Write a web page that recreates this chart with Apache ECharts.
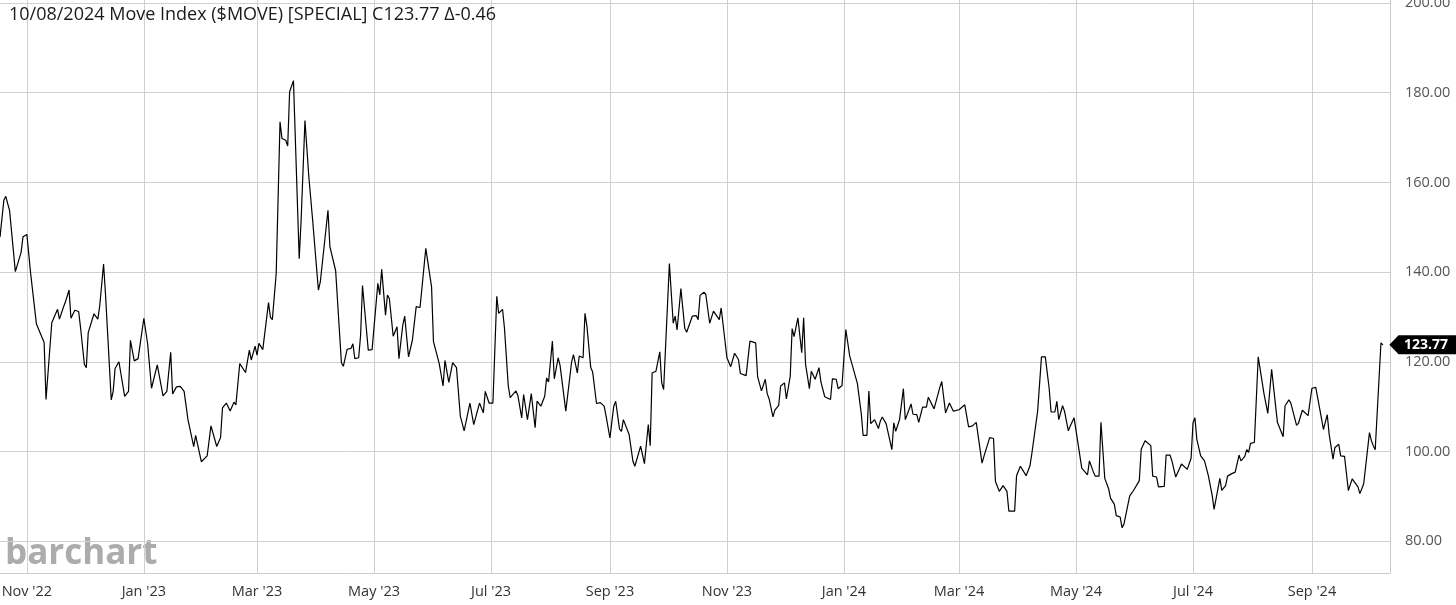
<!DOCTYPE html>
<html><head><meta charset="utf-8">
<script src="https://cdn.jsdelivr.net/npm/echarts@6/dist/echarts.min.js"></script>
<style>html,body{margin:0;padding:0;background:#fff}#c{width:1456px;height:605px}</style>
</head><body><div id="c"></div>
<script>
const titleText = "10/08/2024 Move Index ($MOVE) [SPECIAL] C123.77 \u0394-0.46";
const yTicks = [80, 100, 120, 140, 160, 180, 200];
const xTickMonths = ['2022-11','2023-01','2023-03','2023-05','2023-07','2023-09','2023-11','2024-01','2024-03','2024-05','2024-07','2024-09'];
const monthNames = ['Jan','Feb','Mar','Apr','May','Jun','Jul','Aug','Sep','Oct','Nov','Dec'];

const move2022 = [['2022-10-18',147.8],['2022-10-20',156],['2022-10-21',156.9],['2022-10-23',153.7],['2022-10-26',140.1],['2022-10-29',144.4],['2022-10-30',147.9],['2022-11-01',148.4],['2022-11-03',139.6],['2022-11-06',128.4],['2022-11-07',128],['2022-11-10',124.3],['2022-11-11',111.6],['2022-11-14',128.7],['2022-11-17',131.7],['2022-11-18',129.5],['2022-11-20',132.1],['2022-11-21',133.2],['2022-11-23',136],['2022-11-24',129.7],['2022-11-26',131.5],['2022-11-28',131.2],['2022-11-29',127.6],['2022-12-01',119.4],['2022-12-02',118.7],['2022-12-03',126.5],['2022-12-06',130.7],['2022-12-08',129.5],['2022-12-09',132.5],['2022-12-11',141.8],['2022-12-12',135.1],['2022-12-15',111.5],['2022-12-16',113.4],['2022-12-17',118.5],['2022-12-19',120],['2022-12-22',112.3],['2022-12-24',113.4],['2022-12-25',124.8],['2022-12-27',120.2],['2022-12-29',120.7]];

const move2023a = [['2023-01-01',129.7],['2023-01-03',123.9],['2023-01-05',114.1],['2023-01-08',119.3],['2023-01-11',112.4],['2023-01-13',113.4],['2023-01-15',122.1],['2023-01-16',112.8],['2023-01-18',114.4],['2023-01-20',114.5],['2023-01-22',113.4],['2023-01-24',107.1],['2023-01-27',101.1],['2023-01-28',103.6],['2023-01-31',97.7],['2023-02-03',99],['2023-02-05',105.7],['2023-02-08',101.1],['2023-02-10',103.1],['2023-02-11',109.7],['2023-02-13',110.8],['2023-02-15',109],['2023-02-17',111],['2023-02-18',110.4],['2023-02-20',119.6],['2023-02-23',117.6],['2023-02-25',122.6],['2023-02-26',120.4],['2023-02-28',123.5],['2023-03-01',121.5],['2023-03-02',124.1],['2023-03-04',122.7],['2023-03-07',133.2],['2023-03-08',129.9],['2023-03-09',129.4],['2023-03-11',139.7],['2023-03-13',173.5],['2023-03-14',169.8],['2023-03-16',169.4],['2023-03-17',168.1],['2023-03-18',180.2],['2023-03-20',182.7],['2023-03-23',143],['2023-03-24',151.6],['2023-03-26',173.8],['2023-03-28',161.3],['2023-03-30',151.6],['2023-04-02',136],['2023-04-03',137.8],['2023-04-07',153.8],['2023-04-08',145.7],['2023-04-11',140.3],['2023-04-14',119.8],['2023-04-15',119],['2023-04-17',122.8],['2023-04-19',123],['2023-04-20',124],['2023-04-21',120.7],['2023-04-23',120.9],['2023-04-24',125.9],['2023-04-25',137],['2023-04-28',122.6],['2023-04-30',122.7],['2023-05-03',137.5],['2023-05-04',134.9],['2023-05-05',140.6],['2023-05-07',130.4],['2023-05-08',134.9],['2023-05-09',134.1],['2023-05-11',125.7],['2023-05-13',127.8],['2023-05-14',120.7],['2023-05-16',128.2],['2023-05-17',130.2],['2023-05-19',121.1],['2023-05-21',124.8],['2023-05-23',132.3],['2023-05-25',132.1],['2023-05-28',145.3],['2023-05-31',136.7],['2023-06-01',124.5],['2023-06-04',119.6],['2023-06-06',114.6],['2023-06-07',120.3],['2023-06-09',115.4],['2023-06-10',115.6],['2023-06-11',119.8],['2023-06-13',118.7],['2023-06-15',107.9],['2023-06-17',104.6],['2023-06-18',104.6],['2023-06-20',110.8],['2023-06-22',106],['2023-06-25',110.8],['2023-06-27',108.6],['2023-06-28',113.4],['2023-06-30',110.8]];

const move2023b = [['2023-07-02',110.8],['2023-07-04',134.6],['2023-07-05',130.8],['2023-07-07',131.7],['2023-07-08',127.6],['2023-07-10',114.6],['2023-07-11',112],['2023-07-14',113.5],['2023-07-15',112.5],['2023-07-17',107.5],['2023-07-18',112.7],['2023-07-20',107.1],['2023-07-22',112.9],['2023-07-24',105.3],['2023-07-25',111.2],['2023-07-27',110.1],['2023-07-29',112.3],['2023-07-30',116.4],['2023-07-31',115.5],['2023-08-02',124.6],['2023-08-03',116.2],['2023-08-05',120.9],['2023-08-06',119.2],['2023-08-09',109],['2023-08-12',119.9],['2023-08-13',121.6],['2023-08-15',117.5],['2023-08-16',121.3],['2023-08-18',120.9],['2023-08-19',130.8],['2023-08-20',128],['2023-08-22',118.7],['2023-08-23',117.7],['2023-08-25',110.7],['2023-08-27',110.9],['2023-08-29',110.1],['2023-08-30',107.9],['2023-09-01',103],['2023-09-03',110.1],['2023-09-04',111.2],['2023-09-06',105],['2023-09-07',104.5],['2023-09-08',107.1],['2023-09-11',103.8],['2023-09-13',97.8],['2023-09-14',96.7],['2023-09-17',101.2],['2023-09-19',97.3],['2023-09-21',106],['2023-09-22',101.3],['2023-09-23',117.5],['2023-09-25',117.9],['2023-09-27',122.2],['2023-09-28',115.3],['2023-09-29',113.8],['2023-10-02',141.9],['2023-10-04',128.6],['2023-10-05',130.2],['2023-10-06',127.1],['2023-10-08',136.3],['2023-10-10',127.5],['2023-10-11',126.6],['2023-10-14',130.2],['2023-10-16',130.3],['2023-10-17',129.4],['2023-10-18',134.8],['2023-10-20',135.5],['2023-10-21',135],['2023-10-23',128.6],['2023-10-25',131.3],['2023-10-26',131.1],['2023-10-28',129.4],['2023-10-29',132],['2023-10-30',132],['2023-11-01',120.9],['2023-11-03',118.9],['2023-11-04',119],['2023-11-05',121.9],['2023-11-07',120.5],['2023-11-08',117.4],['2023-11-11',116.9],['2023-11-13',124.6],['2023-11-16',124.2],['2023-11-17',116.7],['2023-11-19',113.5],['2023-11-21',116.1],['2023-11-22',112.9],['2023-11-23',111.7],['2023-11-25',107.7],['2023-11-26',109.2],['2023-11-28',110.3],['2023-11-29',114.6],['2023-12-01',115.3],['2023-12-02',111.7],['2023-12-04',116.8],['2023-12-05',127.4],['2023-12-06',125.6],['2023-12-08',129.8],['2023-12-10',122],['2023-12-11',129.8],['2023-12-12',119.4],['2023-12-14',114],['2023-12-15',117.9],['2023-12-17',116.1],['2023-12-19',118.7],['2023-12-20',115.5],['2023-12-22',112.2],['2023-12-23',112.2],['2023-12-25',111.6],['2023-12-26',116.2],['2023-12-28',116.1],['2023-12-29',114],['2023-12-31',114.7]];

const move2024a = [['2024-01-01',114.9],['2024-01-02',127.2],['2024-01-04',121.3],['2024-01-05',121.1],['2024-01-08',115.2],['2024-01-10',108.6],['2024-01-11',103.6],['2024-01-13',103.6],['2024-01-14',113.5],['2024-01-15',106.2],['2024-01-17',107.1],['2024-01-19',105.1],['2024-01-20',106.8],['2024-01-21',107.7],['2024-01-23',106.2],['2024-01-24',106],['2024-01-26',100.4],['2024-01-27',106.4],['2024-01-28',104.5],['2024-01-30',107.1],['2024-02-01',114],['2024-02-02',107.1],['2024-02-04',109.4],['2024-02-05',110.6],['2024-02-06',108.3],['2024-02-08',108.2],['2024-02-09',106.5],['2024-02-11',109.9],['2024-02-13',109.9],['2024-02-14',112.1],['2024-02-15',111.9],['2024-02-17',109.5],['2024-02-20',114.3],['2024-02-21',115.6],['2024-02-23',108.6],['2024-02-25',110.8],['2024-02-26',110.7],['2024-02-27',109],['2024-03-01',109.3],['2024-03-04',110.4],['2024-03-06',105.5],['2024-03-08',105.7],['2024-03-10',106.5],['2024-03-13',97.4],['2024-03-14',98.9],['2024-03-15',99],['2024-03-17',103.1],['2024-03-19',102.9],['2024-03-20',93.3],['2024-03-22',91.1],['2024-03-23',91.3],['2024-03-24',92.4],['2024-03-26',91.1],['2024-03-27',86.7],['2024-03-30',86.7],['2024-03-31',94.6],['2024-04-02',96.7],['2024-04-03',96.5],['2024-04-05',94.6],['2024-04-07',96.8],['2024-04-08',99.6],['2024-04-09',99.2],['2024-04-11',109],['2024-04-12',109],['2024-04-13',121.1],['2024-04-15',121.1],['2024-04-17',114.1],['2024-04-18',108.8],['2024-04-20',108.8],['2024-04-21',111.2],['2024-04-22',107.1],['2024-04-24',110.2],['2024-04-25',109],['2024-04-27',104.6],['2024-04-28',105.7],['2024-04-30',107.5],['2024-05-01',107.5],['2024-05-04',96.3],['2024-05-05',96.1],['2024-05-07',94.8],['2024-05-08',97.9],['2024-05-10',95.5],['2024-05-11',94.5],['2024-05-13',94.5],['2024-05-14',106.5],['2024-05-16',94],['2024-05-18',91.7],['2024-05-19',89.6],['2024-05-21',88.2],['2024-05-22',85.7],['2024-05-24',85.4],['2024-05-25',83],['2024-05-26',83.8],['2024-05-27',84],['2024-05-29',90.1],['2024-05-31',91.3],['2024-06-01',91.3],['2024-06-03',93.5],['2024-06-04',100.5],['2024-06-06',102.4],['2024-06-07',102.4],['2024-06-09',101.3],['2024-06-10',94.5],['2024-06-12',94.3],['2024-06-13',92.1],['2024-06-16',92.2],['2024-06-17',99.2],['2024-06-19',99.2],['2024-06-20',97.9],['2024-06-22',94.3],['2024-06-23',94.3],['2024-06-25',97.2],['2024-06-26',97.2],['2024-06-28',96],['2024-06-30',98.5]];

const move2024b = [['2024-07-01',106.4],['2024-07-02',107.5],['2024-07-03',102.7],['2024-07-05',99],['2024-07-07',97.9],['2024-07-09',94.6],['2024-07-11',90.2],['2024-07-12',87.1],['2024-07-13',87.1],['2024-07-15',94],['2024-07-16',91.3],['2024-07-18',92.4],['2024-07-19',94.5],['2024-07-21',95],['2024-07-23',95.4],['2024-07-25',99.2],['2024-07-26',97.9],['2024-07-28',98.9],['2024-07-29',100.4],['2024-07-30',99.8],['2024-07-31',101.8],['2024-08-02',102],['2024-08-04',121.1],['2024-08-05',121.1],['2024-08-07',112.9],['2024-08-08',112.6],['2024-08-09',108.5],['2024-08-11',118.3],['2024-08-12',118.3],['2024-08-14',106.5],['2024-08-15',106.4],['2024-08-17',103.3],['2024-08-18',110.2],['2024-08-20',111.5],['2024-08-21',110.8],['2024-08-24',105.8],['2024-08-25',106.3],['2024-08-27',109.2],['2024-08-28',109],['2024-08-30',108],['2024-09-01',114.1],['2024-09-03',114.3],['2024-09-04',114.6],['2024-09-06',107.3],['2024-09-07',104.9],['2024-09-09',108.2],['2024-09-10',103.8],['2024-09-12',98.3],['2024-09-13',100.9],['2024-09-15',101.6],['2024-09-16',99],['2024-09-18',98.9],['2024-09-20',91.3],['2024-09-22',93.9],['2024-09-23',94],['2024-09-25',92.1],['2024-09-26',90.6],['2024-09-28',92.8],['2024-09-29',92.8],['2024-10-01',104.2],['2024-10-02',102.4],['2024-10-03',101.3],['2024-10-04',100.4],['2024-10-07',124.23],['2024-10-08',123.77]];

function toTime(s) { const p = s.split('-'); return new Date(+p[0], +p[1] - 1, p[2] ? +p[2] : 1).getTime(); }
const allData = move2022.concat(move2023a, move2023b, move2024a, move2024b).map(d => [toTime(d[0]), d[1]]);
const last = allData[allData.length - 1];
const xTickValues = xTickMonths.map(toTime);
const FONT = "'Open Sans', 'Noto Sans', sans-serif";

const chart = echarts.init(document.getElementById('c'), null, {renderer: 'canvas'});
chart.setOption({
  animation: false,
  backgroundColor: '#fff',
  title: {
    text: titleText, left: 4, top: 1,
    textStyle: {fontFamily: FONT, fontSize: 18, fontWeight: 'normal', color: '#1a1a1a'}
  },
  graphic: [{
    type: 'text', left: 5, top: 537, silent: true,
    style: {text: 'barchart', fontFamily: FONT, fontSize: 35, fontWeight: 700, fill: '#acacac'}
  }],
  grid: {left: 0, right: 66, top: 0, bottom: 32, containLabel: false, outerBoundsMode: 'none'},
  xAxis: {
    type: 'value',
    min: new Date(2022, 9, 18).getTime(),
    max: new Date(2024, 9, 11, 17).getTime(),
    axisLine: {show: true, lineStyle: {color: '#cccccc', width: 1}},
    axisTick: {show: false, customValues: xTickValues},
    axisLabel: {
      customValues: xTickValues, color: '#333', fontSize: 14.5, fontFamily: FONT, margin: 11, hideOverlap: false,
      formatter: v => { const d = new Date(v); return monthNames[d.getMonth()] + " '" + String(d.getFullYear()).slice(2); }
    },
    splitLine: {show: true, lineStyle: {color: '#d0d0d0', width: 1}}
  },
  yAxis: {
    type: 'value', position: 'right', min: 72.9, max: 200.67,
    axisLine: {show: true, lineStyle: {color: '#cccccc', width: 1}},
    axisTick: {show: false, customValues: yTicks},
    axisLabel: {customValues: yTicks, color: '#555', fontSize: 14.5, fontFamily: FONT, margin: 15, formatter: v => v.toFixed(2)},
    splitLine: {show: true, lineStyle: {color: '#d0d0d0', width: 1}}
  },
  series: [{
    type: 'line', data: allData, showSymbol: false, symbol: 'none',
    lineStyle: {color: '#000', width: 1.2},
    markPoint: {
      silent: true,
      symbol: 'path://M0,10 L9,0 L66,0 L66,20 L9,20 Z',
      symbolSize: [67, 19], symbolOffset: [40, 0], symbolKeepAspect: false,
      itemStyle: {color: '#000'},
      label: {show: true, position: 'inside', offset: [3, 0], color: '#fff', fontSize: 14, fontWeight: 'bold', fontFamily: FONT, formatter: () => last[1].toFixed(2)},
      data: [{coord: last, value: last[1]}]
    }
  }]
});
</script></body></html>
